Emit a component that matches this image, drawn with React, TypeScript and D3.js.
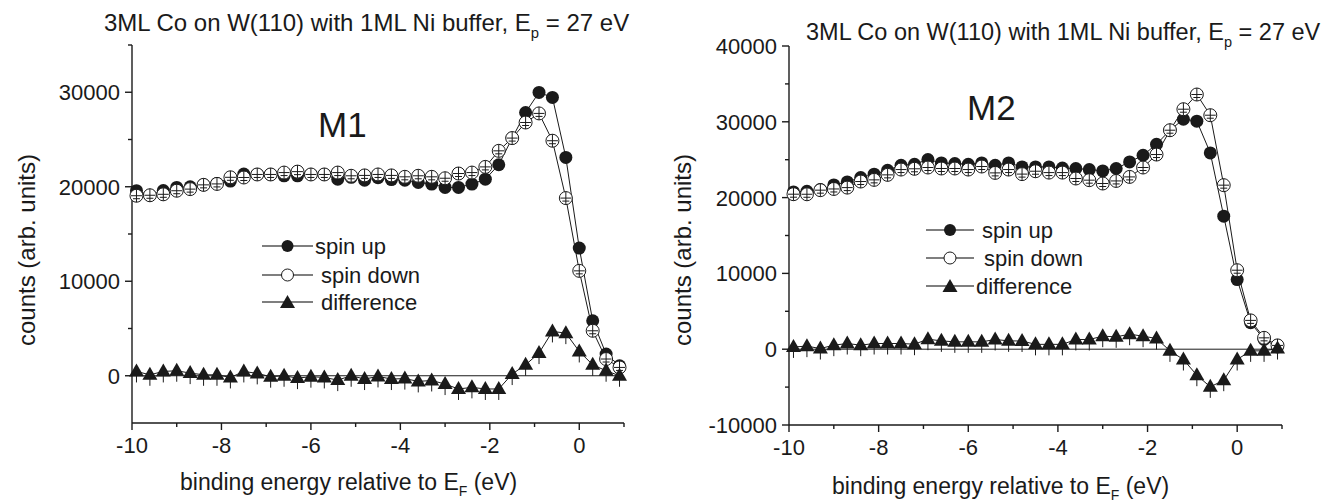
import React from 'react'
import { scaleLinear, line } from 'd3'

// binding energy grid (eV), same for both panels
const energy = [
  -9.9, -9.6, -9.3, -9.0, -8.7, -8.4, -8.1, -7.8, -7.5, -7.2, -6.9, -6.6, -6.3,
  -6.0, -5.7, -5.4, -5.1, -4.8, -4.5, -4.2, -3.9, -3.6, -3.3, -3.0, -2.7, -2.4,
  -2.1, -1.8, -1.5, -1.2, -0.9, -0.6, -0.3, 0.0, 0.3, 0.6, 0.9,
]

// M1
const m1Up = [
  19580, 19100, 19600, 19930, 20000, 20200, 20350, 20600, 21340, 21300, 21300,
  21160, 21160, 21300, 21300, 20800, 21000, 20700, 20950, 20760, 20700, 20450,
  20280, 19930, 19930, 20280, 20800, 22330, 25150, 27860, 29980, 29450, 23100,
  13510, 5820, 2300, 1060,
]
const m1Down = [
  19050, 19100, 19200, 19580, 19750, 20200, 20300, 21000, 20980, 21300, 21300,
  21500, 21600, 21300, 21300, 21500, 21160, 21200, 21300, 21200, 21050, 21160,
  21050, 20900, 21400, 21500, 22100, 23800, 25150, 26800, 27760, 24870, 18800,
  11100, 4760, 1770, 880,
]
const m1Diff = [
  455, 100, 455, 530, 280, 100, 100, -180, 455, 250, -100, 0, -250, -100, -180,
  -460, 0, -350, -70, -350, -300, -600, -500, -880, -1400, -1230, -1400, -1400,
  180, 1160, 2400, 4690, 4510, 2570, 1160, 530, 0,
]

// M2
const m2Up = [
  20750, 20840, 21070, 21670, 22070, 22650, 23090, 23610, 24270, 24400, 25020,
  24580, 24500, 24400, 24580, 24270, 24580, 24050, 24050, 24050, 23900, 23840,
  23700, 23520, 23840, 24710, 25590, 27040, 28890, 30340, 30080, 25900, 17550,
  9190, 3500, 1300, 300,
]
const m2Down = [
  20450, 20440, 20980, 21140, 21320, 22120, 22340, 23000, 23700, 23800, 23970,
  23840, 23840, 23700, 24100, 23260, 23700, 23100, 23480, 23300, 23300, 22520,
  22300, 21860, 22200, 22730, 23970, 25680, 28890, 31660, 33600, 30870, 21640,
  10420, 3800, 1500, 500,
]
const m2Diff = [
  300, 400, 90, 530, 750, 530, 750, 750, 750, 660, 1320, 1100, 970, 970, 970,
  1280, 1100, 1080, 640, 640, 640, 1280, 1280, 1720, 1630, 1980, 1720, 1410,
  -220, -1360, -3430, -4970, -4090, -1360, -220, -220, 90,
]

const xMajor = [-10, -8, -6, -4, -2, 0]
const xMinor = [-9, -7, -5, -3, -1, 1]
const m1YMajor = [0, 10000, 20000, 30000]
const m1YMinor = [5000, 15000, 25000, 35000]
const m2YMajor = [-10000, 0, 10000, 20000, 30000, 40000]
const m2YMinor = [-5000, 5000, 15000, 25000, 35000]
const legendLabels = ['spin up', 'spin down', 'difference']

const FONT = '"Liberation Sans", Arial, Helvetica, sans-serif'
const INK = '#1a1a1a'

function FilledDot({ x, y, r = 6.5 }) {
  return <circle cx={x} cy={y} r={r} fill={INK} />
}

function OpenDot({ x, y, r = 6.5, bars = true }) {
  return (
    <g>
      <circle cx={x} cy={y} r={r} fill="#fff" stroke={INK} strokeWidth={1} />
      {bars && (
        <g stroke={INK} strokeWidth={1}>
          <line x1={x} x2={x} y1={y - r} y2={y + r} />
          <line x1={x - r + 1} x2={x + r - 1} y1={y} y2={y} />
          <line x1={x - 3.5} x2={x + 3.5} y1={y + 3} y2={y + 3} />
        </g>
      )}
    </g>
  )
}

function Tri({ x, y, stem = true }) {
  return (
    <g>
      {stem && <line x1={x} x2={x} y1={y - 2} y2={y + 11} stroke={INK} strokeWidth={1} />}
      <path d={`M${x},${y - 8}L${x + 7.5},${y + 5}L${x - 7.5},${y + 5}Z`} fill={INK} />
    </g>
  )
}

function Panel({ p }) {
  const x = scaleLinear().domain([-10, 1]).range(p.xRange)
  const y = scaleLinear().domain(p.yDomain).range(p.yRange)
  const path = line<number>().x((_, i) => x(energy[i])).y(d => y(d))
  const x0 = p.xRange[0]
  const yb = p.yRange[0]

  return (
    <g fontFamily={FONT} fill={INK}>
      {/* title */}
      <text x={p.titleX} y={p.titleY} fontSize={p.titleSize}>
        3ML Co on W(110) with 1ML Ni buffer, E
        <tspan fontSize={p.titleSize * 0.62} dy={p.titleSize * 0.3}>p</tspan>
        <tspan dy={-p.titleSize * 0.3}> = 27 eV</tspan>
      </text>

      {/* axes */}
      <g stroke={INK} strokeWidth={1.4} fill="none">
        <line x1={x0} x2={x0} y1={p.yRange[1]} y2={yb} />
        <line x1={x0} x2={p.xRange[1]} y1={yb} y2={yb} />
        {p.yMajor.map(v => <line key={v} x1={x0 - 7} x2={x0} y1={y(v)} y2={y(v)} />)}
        {p.yMinor.map(v => <line key={v} x1={x0 - 4} x2={x0} y1={y(v)} y2={y(v)} />)}
        {xMajor.map(v => <line key={v} x1={x(v)} x2={x(v)} y1={yb} y2={yb + 7} />)}
        {xMinor.map(v => <line key={v} x1={x(v)} x2={x(v)} y1={yb} y2={yb + 4} />)}
      </g>
      {p.yMajor.map(v => (
        <text key={v} x={x0 - 12} y={y(v) + 8} fontSize={22} textAnchor="end">{v}</text>
      ))}
      {xMajor.map(v => (
        <text key={v} x={x(v)} y={yb + 30} fontSize={22} textAnchor="middle">{v}</text>
      ))}
      <text x={p.xTitleX} y={p.xTitleY} fontSize={23}>
        binding energy relative to E
        <tspan fontSize={14} dy={6}>F</tspan>
        <tspan dy={-6}> (eV)</tspan>
      </text>
      <text
        transform={`translate(${p.yTitleX},${p.yTitleY}) rotate(-90)`}
        fontSize={24}
        textAnchor="middle"
      >
        counts (arb. units)
      </text>

      {/* zero line */}
      <line x1={x(-10)} x2={x(p.zeroEnd)} y1={y(0)} y2={y(0)} stroke={INK} strokeWidth={1} />

      {/* series */}
      <g fill="none" stroke={INK} strokeWidth={1}>
        <path d={path(p.up) || ''} />
        <path d={path(p.down) || ''} />
        <path d={path(p.diff) || ''} />
      </g>
      {p.up.map((v, i) => <FilledDot key={i} x={x(energy[i])} y={y(v)} />)}
      {p.down.map((v, i) => <OpenDot key={i} x={x(energy[i])} y={y(v)} />)}
      {p.diff.map((v, i) => <Tri key={i} x={x(energy[i])} y={y(v)} />)}

      {/* panel label */}
      <text x={p.labelX} y={p.labelY} fontSize={35}>{p.label}</text>

      {/* legend */}
      {legendLabels.map((name, i) => {
        const ly = p.legendY[i]
        const [a, b] = p.legendLine
        const mx = (a + b) / 2
        return (
          <g key={name}>
            <line x1={a} x2={b} y1={ly} y2={ly} stroke="#555" strokeWidth={1.3} />
            {i === 0 && <FilledDot x={mx} y={ly} r={6} />}
            {i === 1 && <OpenDot x={mx} y={ly} r={6} bars={false} />}
            {i === 2 && <Tri x={mx} y={ly + 1} stem={false} />}
            <text x={p.legendTextX[i]} y={ly + 8} fontSize={22}>{name}</text>
          </g>
        )
      })}
    </g>
  )
}

const panels = [
  {
    xRange: [132, 624], yDomain: [-5000, 35000], yRange: [423, 45],
    yMajor: m1YMajor, yMinor: m1YMinor,
    up: m1Up, down: m1Down, diff: m1Diff, zeroEnd: 0.9,
    titleX: 104, titleY: 31, titleSize: 24,
    xTitleX: 180, xTitleY: 490, yTitleX: 35, yTitleY: 250,
    label: 'M1', labelX: 318, labelY: 137,
    legendY: [246, 275, 302], legendLine: [262, 313], legendTextX: [315, 321, 321],
  },
  {
    xRange: [789, 1282], yDomain: [-10000, 40000], yRange: [425, 46],
    yMajor: m2YMajor, yMinor: m2YMinor,
    up: m2Up, down: m2Down, diff: m2Diff, zeroEnd: 1,
    titleX: 806, titleY: 40, titleSize: 23.5,
    xTitleX: 832, xTitleY: 494, yTitleX: 691, yTitleY: 250,
    label: 'M2', labelX: 967, labelY: 120,
    legendY: [230, 258, 286], legendLine: [926, 974], legendTextX: [982, 984, 976],
  },
]

export default function App() {
  return (
    <svg width={1331} height={502} style={{ display: 'block', margin: '-8px 0 0 -8px', background: '#fff' }}>
      {panels.map((p, i) => <Panel key={i} p={p} />)}
    </svg>
  )
}
